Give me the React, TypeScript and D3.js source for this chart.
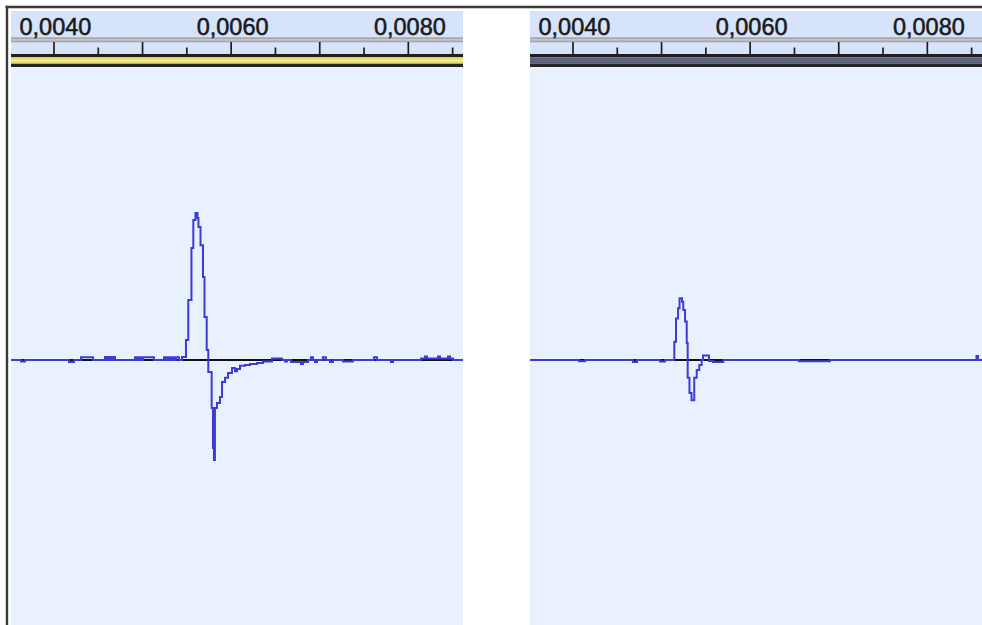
import * as d3 from 'd3';

// time axis (seconds) shown in the ruler of both panels
const timeDomain: [number, number] = [0.003515, 0.008617];
const majorTicks = [0.004, 0.005, 0.006, 0.007, 0.008];
const minorTicks = [0.0045, 0.0055, 0.0065, 0.0075, 0.0085];
const labelTicks = [0.004, 0.006, 0.008];

// left track: sample value changes (step plot)
const leftTimes = [
  0.003515, 0.003628, 0.003673, 0.00417, 0.004226, 0.004305, 0.00444, 0.004576, 0.004599, 0.004621,
  0.004644, 0.004666, 0.004689, 0.004915, 0.004937, 0.00496, 0.004982, 0.005005, 0.005129, 0.005242,
  0.005265, 0.005287, 0.00531, 0.005332, 0.005355, 0.005377, 0.005411, 0.005445, 0.00549, 0.005516,
  0.005552, 0.005573, 0.005597, 0.00562, 0.005631, 0.005654, 0.005682, 0.005699, 0.005724, 0.005742,
  0.00578, 0.005795, 0.005806, 0.005817, 0.00584, 0.005874, 0.005897, 0.005931, 0.005965, 0.00601,
  0.006043, 0.006066, 0.0061, 0.006156, 0.006213, 0.006292, 0.006359, 0.006461, 0.006574, 0.006608,
  0.00663, 0.006675, 0.006788, 0.006811, 0.006867, 0.006901, 0.006924, 0.006946, 0.006969, 0.007036,
  0.00707, 0.007116, 0.007149, 0.007262, 0.007375, 0.007612, 0.007646, 0.007804, 0.007827, 0.008143,
  0.008188, 0.008211, 0.008335, 0.008358, 0.008448, 0.008471, 0.008505, 0.008617,
];
const leftValues = [
  0, -0.005, 0, -0.007, 0, 0.009, 0, 0.01, 0, 0.01,
  0, 0.01, 0, 0.009, 0, 0.009, 0, 0.009, 0, 0.009,
  0, 0.009, 0, 0.009, 0, 0.009, 0, 0.01, 0.068, 0.205,
  0.382, 0.478, 0.502, 0.485, 0.454, 0.392, 0.283, 0.147, 0.034, -0.041,
  -0.164, -0.3, -0.341, -0.164, -0.147, -0.126, -0.075, -0.061, -0.044, -0.027,
  -0.038, -0.031, -0.02, -0.017, -0.014, -0.01, -0.005, 0.005, 0, -0.005,
  0, -0.007, -0.014, -0.007, 0, 0.009, 0, -0.007, 0, 0.009,
  0, -0.007, 0, -0.005, 0, 0.009, 0, -0.007, 0, 0.005,
  0.012, 0.005, 0.012, 0.005, 0.012, 0.005, 0, 0,
];

// right track
const rightTimes = [
  0.003515, 0.004068, 0.004136, 0.004678, 0.004723, 0.004982, 0.005039, 0.005144, 0.005163, 0.005186,
  0.005203, 0.005231, 0.005245, 0.005265, 0.005284, 0.005295, 0.005315, 0.005338, 0.005369, 0.005397,
  0.005426, 0.005453, 0.005468, 0.005535, 0.00558, 0.005697, 0.006551, 0.006901, 0.008555, 0.008572,
  0.008617,
];
const rightValues = [
  0, -0.004, 0, -0.007, 0, -0.005, 0, 0.062, 0.142, 0.177,
  0.211, 0.199, 0.171, 0.131, 0.058, -0.061, -0.113, -0.137, -0.061, -0.034,
  -0.017, 0, 0.015, -0.003, -0.007, 0, -0.004, 0, 0.014, 0,
  0,
];

const W = 982;
const H = 625;
const panelW = 452;
const rulerTop = 11;
const plotTop = 67;

const x = d3.scaleLinear().domain(timeDomain).range([0, panelW]);
const y = d3.scaleLinear().domain([-1, 1]).range([653, plotTop]);
const fmt = (t: number) => d3.format('.4f')(t).replace('.', ',');

const wave = d3
  .line<[number, number]>()
  .x(d => x(d[0]))
  .y(d => y(d[1]))
  .curve(d3.curveStepAfter);

function Track({ x0, times, values, band, bandLight, id }: {
  x0: number; times: number[]; values: number[]; band: string; bandLight: string; id: string;
}) {
  const pts = times.map((t, i) => [t, values[i]] as [number, number]);
  return (
    <g transform={`translate(${x0},0)`}>
      <clipPath id={id}>
        <rect x={0} y={plotTop} width={panelW} height={H - plotTop} />
      </clipPath>
      {/* ruler */}
      <rect x={0} y={rulerTop} width={panelW} height={54 - rulerTop} fill="#d6e3fb" />
      <rect x={0} y={37.3} width={panelW} height={5} fill="#a4a6a9" />
      <rect x={0} y={39.2} width={panelW} height={1.3} fill="#cdd0d4" />
      {majorTicks.map(t => (
        <line key={'M' + t} x1={x(t)} x2={x(t)} y1={42} y2={54} stroke="#1e1e1e" strokeWidth={1.7} />
      ))}
      {minorTicks.map(t => (
        <line key={'m' + t} x1={x(t)} x2={x(t)} y1={47.5} y2={54} stroke="#1e1e1e" strokeWidth={1.7} />
      ))}
      {labelTicks.map(t => (
        <text key={'l' + t} x={x(t) + 1.5} y={35} textAnchor="middle"
          fontFamily="'Liberation Sans', Arial, sans-serif" fontSize={23.5} fill="#1a1a1a"
          stroke="#1a1a1a" strokeWidth={0.55}>
          {fmt(t)}
        </text>
      ))}
      {/* track border bands */}
      <rect x={0} y={54} width={panelW} height={3.3} fill="#1f1f1f" />
      <rect x={0} y={57.3} width={panelW} height={6.4} fill={band} />
      <rect x={0} y={59.3} width={panelW} height={2.2} fill={bandLight} />
      <rect x={0} y={63.7} width={panelW} height={3.3} fill="#262626" />
      {/* plot */}
      <rect x={0} y={plotTop} width={panelW} height={H - plotTop} fill="#e9f0fe" />
      <g clipPath={`url(#${id})`}>
        <line x1={0} x2={panelW} y1={y(0)} y2={y(0)} stroke="#111" strokeWidth={1.8} />
        <path d={wave(pts) || ''} fill="none" stroke="#3c3cd4" strokeWidth={2}
          strokeLinejoin="miter" />
      </g>
    </g>
  );
}

export default function App() {
  return (
    <svg width={W} height={H} style={{ position: 'absolute', left: 0, top: 0, background: '#fff' }}>
      <rect x={0} y={0} width={W} height={H} fill="#fff" />
      <Track x0={11} times={leftTimes} values={leftValues} band="#e4da6c" bandLight="#f0ea98" id="clipL" />
      <Track x0={530} times={rightTimes} values={rightValues} band="#5a5f78" bandLight="#62677f" id="clipR" />
      {/* outer frame */}
      <line x1={5.5} x2={W} y1={7} y2={7} stroke="#3a3a3a" strokeWidth={2.4} />
      <line x1={7} x2={7} y1={5.8} y2={H} stroke="#3a3a3a" strokeWidth={2.4} />
    </svg>
  );
}
